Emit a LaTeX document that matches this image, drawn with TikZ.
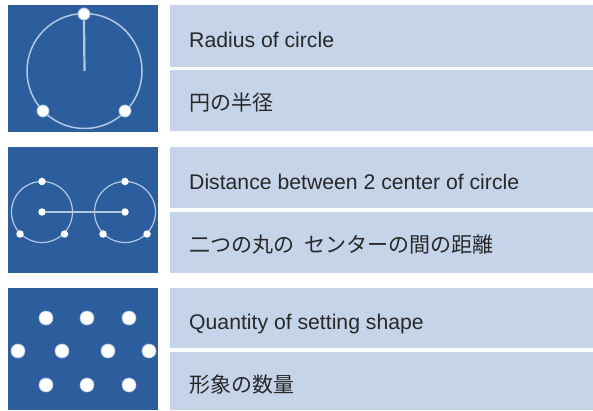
\documentclass[tikz,border=0pt]{standalone}
\usepackage{fontspec}
\setmainfont{Liberation Sans}
\newfontfamily\jpfont{Noto Sans CJK JP}
\definecolor{panelblue}{RGB}{44,93,157}
\definecolor{rowblue}{RGB}{197,212,233}
\definecolor{linecol}{RGB}{178,200,229}
\definecolor{txt}{RGB}{40,40,40}
\begin{document}
\begin{tikzpicture}[x=1pt,y=-1pt,
  panel/.style={fill=panelblue},
  row/.style={fill=rowblue},
  ring/.style={draw=linecol,line width=1.5pt},
  bigdot/.style={circle,fill=white,draw=linecol,line width=0.8pt,inner sep=0pt,minimum size=12pt},
  smalldot/.style={circle,fill=white,inner sep=0pt,minimum size=7.5pt},
  gridot/.style={circle,fill=white,draw=linecol,line width=0.6pt,inner sep=0pt,minimum size=14pt},
  entxt/.style={anchor=base west,inner sep=0pt,text=txt,font=\fontsize{21.2}{24}\selectfont},
  jptxt/.style={anchor=base west,inner sep=0pt,text=txt,font=\jpfont\fontsize{21}{24}\selectfont}]
\useasboundingbox (0,0) rectangle (593,411);
\fill[white] (0,0) rectangle (593,411);
% panels
\path[panel] (8,5) rectangle (158,132);
\path[panel] (8,147) rectangle (158,273);
\path[panel] (8,288) rectangle (158,410);
% rows
\path[row] (170,5) rectangle (593,67);
\path[row] (170,70) rectangle (593,131);
\path[row] (170,147) rectangle (593,208);
\path[row] (170,212) rectangle (593,273);
\path[row] (170,288) rectangle (593,348);
\path[row] (170,352) rectangle (593,410);
% panel 1
\coordinate (c1) at (84.5,71);
\draw[ring] (c1) circle[radius=57.5];
\node[bigdot] (t1) at (84,14) {};
\draw[ring,line width=2.2pt] (t1.south) -- (c1);
\node[bigdot] (l1) at (43,111) {};
\node[bigdot] (r1) at (125,111) {};
% panel 2
\coordinate (c2a) at (42,212);
\coordinate (c2b) at (125,212);
\draw[ring,line width=1.2pt] (c2a) circle[radius=30.5];
\draw[ring,line width=1.2pt] (c2b) circle[radius=30.5];
\node[smalldot] (ca) at (c2a) {};
\node[smalldot] (cb) at (c2b) {};
\draw[draw=linecol,line width=1.6pt] (ca) -- (cb);
\node[smalldot] (ta) at (42,181.5) {};
\node[smalldot] (la) at (20,234) {};
\node[smalldot] (ra) at (64.5,234) {};
\node[smalldot] (tb) at (125,181.5) {};
\node[smalldot] (lb) at (103,234) {};
\node[smalldot] (rb) at (147,234) {};
% panel 3
\foreach \x/\n in {46/a,87/b,129/c}{
  \node[gridot] (g1\n) at (\x,318) {};
  \node[gridot] (g3\n) at (\x,385) {};
}
\foreach \x/\n in {18/a,62/b,108/c,149/d}{
  \node[gridot] (g2\n) at (\x,351) {};
}
% texts
\node[entxt] (e1) at (189,47.5) {Radius of circle};
\node[jptxt] (j1) at (189,111) {円の半径};
\node[entxt] (e2) at (189,189.5) {Distance between 2 center of circle};
\node[jptxt] (j2) at (189,252) {二つの丸の\hspace{0.5em}センターの間の距離};
\node[entxt] (e3) at (189,329.5) {Quantity of setting shape};
\node[jptxt] (j3) at (189,392) {形象の数量};
\end{tikzpicture}
\end{document}
